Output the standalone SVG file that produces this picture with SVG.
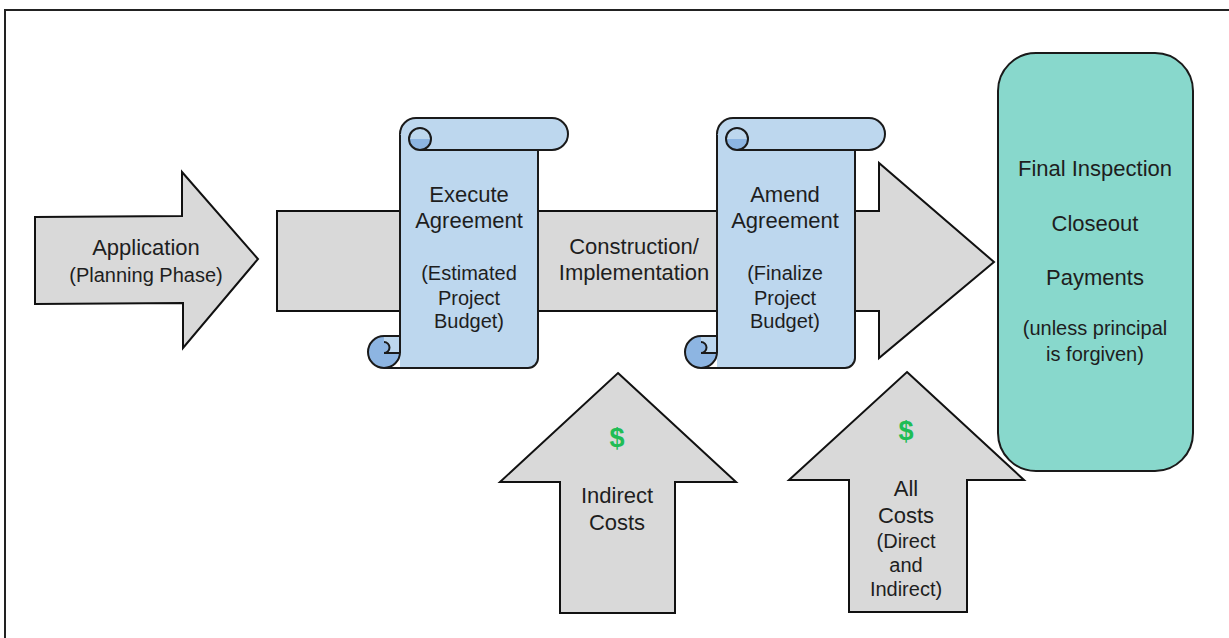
<svg xmlns="http://www.w3.org/2000/svg" xmlns:xlink="http://www.w3.org/1999/xlink" width="1229" height="638" viewBox="0 0 1229 638">
<style>
  .arrow { fill: #d9d9d9; stroke: #111; stroke-width: 2; stroke-linejoin: miter; }
  .sc-light { fill: #bdd7ee; stroke: none; }
  .sc-fill { fill: #bdd7ee; stroke: #1a1a1a; stroke-width: 2; }
  .sc-dark { fill: #8db5e2; stroke: #1a1a1a; stroke-width: 2; }
  .sc-line { fill: none; stroke: #1a1a1a; stroke-width: 2; }
  .final { fill: #88d8cc; stroke: #1a1a1a; stroke-width: 2; }
  text { font-family: "Liberation Sans", Arial, sans-serif; fill: #1e1e1e; text-anchor: middle; }
  .t { font-size: 22px; }
  .s { font-size: 20px; }
  .d { font-size: 27px; font-weight: bold; fill: #1fbd55; }
</style>
<defs>
  <g id="scrollShape">
    <path class="sc-light" d="M0,16 V250 H128 A10,10 0 0 0 138,240 V32 Z"/>
    <path class="sc-line" d="M0,16 V218 M-16,250 H128 A10,10 0 0 0 138,240 V32"/>
    <path class="sc-fill" d="M20,32 H152 A16,16 0 0 0 152,0 H16 A16,16 0 0 0 0,16"/>
    <path d="M9,21 A11,11 0 0 0 31,21 Z" fill="#8db5e2"/>
    <circle class="sc-line" cx="20" cy="21" r="11"/>
    <circle class="sc-dark" cx="-16" cy="234" r="16"/>
    <path class="sc-light" d="M-16,218 H0 V235 H-16 A5.5,5.5 0 0 0 -16,224 Z"/>
    <path class="sc-line" d="M-16,218 H0 V235 M0,235 H-16 A5.5,5.5 0 0 0 -16,224"/>
  </g>
</defs>

<path d="M5,640 V10 H1232" fill="none" stroke="#222" stroke-width="2"/>

<g id="connectors">
  <g id="main-arrow">
    <polygon class="arrow" points="277,211 879,211 879,163 994,262 879,358 879,311 277,311"/>
    <text class="t" x="634" y="254">Construction/</text>
    <text class="t" x="634" y="280">Implementation</text>
  </g>
</g>

<g id="application">
  <polygon class="arrow" points="35,217 182,216 182,172 258,259 183,348 183,303 35,304"/>
  <text class="t" x="146" y="255">Application</text>
  <text class="s" x="146" y="282">(Planning Phase)</text>
</g>

<g id="execute-agreement">
  <use xlink:href="#scrollShape" x="400" y="118"/>
  <text class="t" x="469" y="202">Execute</text>
  <text class="t" x="469" y="228">Agreement</text>
  <text class="s" x="469" y="280">(Estimated</text>
  <text class="s" x="469" y="305">Project</text>
  <text class="s" x="469" y="328">Budget)</text>
</g>

<g id="amend-agreement">
  <use xlink:href="#scrollShape" x="717" y="118"/>
  <text class="t" x="785" y="202">Amend</text>
  <text class="t" x="785" y="228">Agreement</text>
  <text class="s" x="785" y="280">(Finalize</text>
  <text class="s" x="785" y="305">Project</text>
  <text class="s" x="785" y="328">Budget)</text>
</g>

<g id="indirect-costs">
  <polygon class="arrow" points="618,373 736,482 675,482 675,613 560,613 560,482 500,482"/>
  <text class="d" x="617" y="447">$</text>
  <text class="t" x="617" y="503">Indirect</text>
  <text class="t" x="617" y="530">Costs</text>
</g>

<g id="all-costs">
  <polygon class="arrow" points="907,372 1024,480 967,480 967,612 849,612 849,480 789,480"/>
  <text class="d" x="906" y="440">$</text>
  <text class="t" x="906" y="496">All</text>
  <text class="t" x="906" y="523">Costs</text>
  <text class="s" x="906" y="548">(Direct</text>
  <text class="s" x="906" y="572">and</text>
  <text class="s" x="906" y="596">Indirect)</text>
</g>

<g id="final">
  <rect class="final" x="998" y="53" width="195" height="418" rx="38" ry="38"/>
  <text class="t" x="1095" y="176">Final Inspection</text>
  <text class="t" x="1095" y="231">Closeout</text>
  <text class="t" x="1095" y="285">Payments</text>
  <text class="s" x="1095" y="335">(unless principal</text>
  <text class="s" x="1095" y="361">is forgiven)</text>
</g>
</svg>
